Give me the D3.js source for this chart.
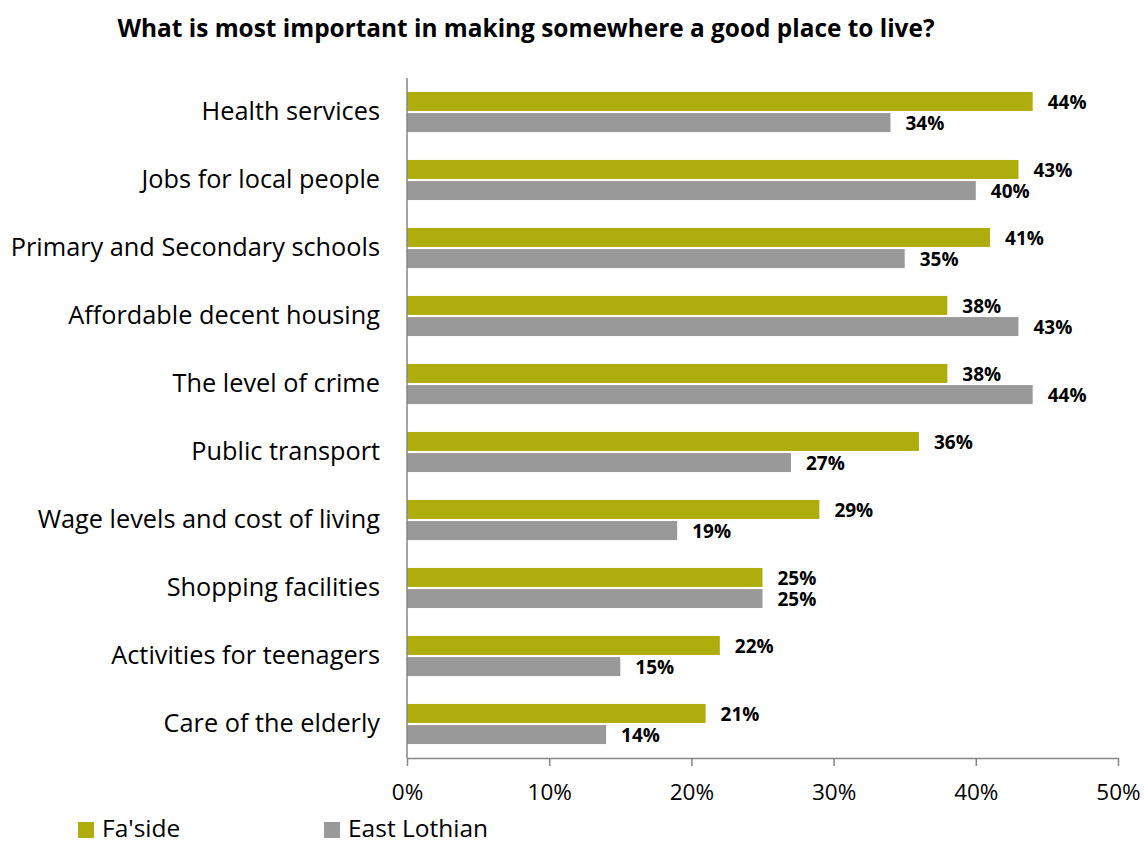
<!DOCTYPE html>
<html>
<head>
<meta charset="utf-8">
<script src="https://cdn.jsdelivr.net/npm/d3@7"></script>
<style>
  html, body { margin: 0; padding: 0; background: #fff; }
  svg { display: block; font-family: "Open Sans", sans-serif; }
</style>
</head>
<body>
<svg id="chart" width="1145" height="844"></svg>
<script>
const title = "What is most important in making somewhere a good place to live?";
const categories = [
  "Health services",
  "Jobs for local people",
  "Primary and Secondary schools",
  "Affordable decent housing",
  "The level of crime",
  "Public transport",
  "Wage levels and cost of living",
  "Shopping facilities",
  "Activities for teenagers",
  "Care of the elderly"
];
const seriesNames = ["Fa'side", "East Lothian"];
const fasideValues = [44, 43, 41, 38, 38, 36, 29, 25, 22, 21];
const eastLothianValues = [34, 40, 35, 43, 44, 27, 19, 25, 15, 14];
const xTicks = [0, 10, 20, 30, 40, 50];
const colors = ["#afac0e", "#999999"];

const seriesValues = [fasideValues, eastLothianValues];
const rows = categories.map((c, i) => ({
  category: c,
  values: seriesNames.map((s, k) => ({ series: s, value: seriesValues[k][i] }))
}));

const svg = d3.select("#chart");
const plot = { left: 407, right: 1118, top: 78, bottom: 758 };
const FONT = "'Open Sans', sans-serif";

const x = d3.scaleLinear().domain([0, 50]).range([plot.left, plot.right]);
const y = d3.scaleBand().domain(categories).range([plot.top, plot.bottom])
  .paddingInner(0.41).paddingOuter(0.205);
const ySub = d3.scaleBand().domain(seriesNames).range([0, y.bandwidth()]).paddingInner(0.1);
const color = d3.scaleOrdinal().domain(seriesNames).range(colors);

// Title
svg.append("text")
  .attr("x", 526).attr("y", 37)
  .attr("text-anchor", "middle")
  .attr("font-weight", "bold")
  .attr("font-size", 24.4)
  .attr("fill", "#000")
  .text(title);

// Bars
const groups = svg.append("g").selectAll("g")
  .data(rows).join("g")
  .attr("transform", d => `translate(0,${y(d.category)})`);

groups.selectAll("rect")
  .data(d => d.values).join("rect")
  .attr("x", x(0))
  .attr("y", d => ySub(d.series))
  .attr("width", d => x(d.value) - x(0))
  .attr("height", ySub.bandwidth())
  .attr("fill", d => color(d.series));

// Value labels, each placed just past the end of its bar
groups.selectAll("text.value")
  .data(d => d.values).join("text")
  .attr("class", "value")
  .attr("x", d => x(d.value) + 15)
  .attr("y", d => ySub(d.series) + ySub.bandwidth() / 2 + 1)
  .attr("dy", "0.35em")
  .attr("font-size", 19)
  .attr("font-weight", "bold")
  .attr("fill", "#000")
  .text(d => d.value + "%");

// Category axis
const yAxis = svg.append("g")
  .attr("transform", `translate(${plot.left},0)`)
  .call(d3.axisLeft(y).tickSize(0).tickPadding(27).tickSizeOuter(0));
yAxis.select(".domain").attr("stroke", "#868686").attr("stroke-width", 1.5)
  .attr("d", `M0,${plot.top}V${plot.bottom}`);
yAxis.selectAll("text").attr("font-size", 25.3).attr("fill", "#000")
  .attr("font-family", FONT);

// Value axis
const xAxis = svg.append("g")
  .attr("transform", `translate(0,${plot.bottom})`)
  .call(d3.axisBottom(x).tickValues(xTicks).tickFormat(d => d + "%")
    .tickSize(8).tickSizeOuter(0).tickPadding(18));
xAxis.select(".domain").attr("stroke", "#868686").attr("stroke-width", 1.5);
xAxis.selectAll(".tick line").attr("stroke", "#868686").attr("stroke-width", 1.5);
xAxis.selectAll("text").attr("font-size", 22.5).attr("fill", "#000")
  .attr("font-family", FONT);

// Legend
const legendX = [78, 324];
const legend = svg.append("g").selectAll("g")
  .data(seriesNames).join("g")
  .attr("transform", (d, i) => `translate(${legendX[i]},822)`);
legend.append("rect")
  .attr("width", 16).attr("height", 16)
  .attr("fill", d => color(d));
legend.append("text")
  .attr("x", 24).attr("y", 15)
  .attr("font-size", 24.5).attr("fill", "#000")
  .text(d => d);
</script>
</body>
</html>
